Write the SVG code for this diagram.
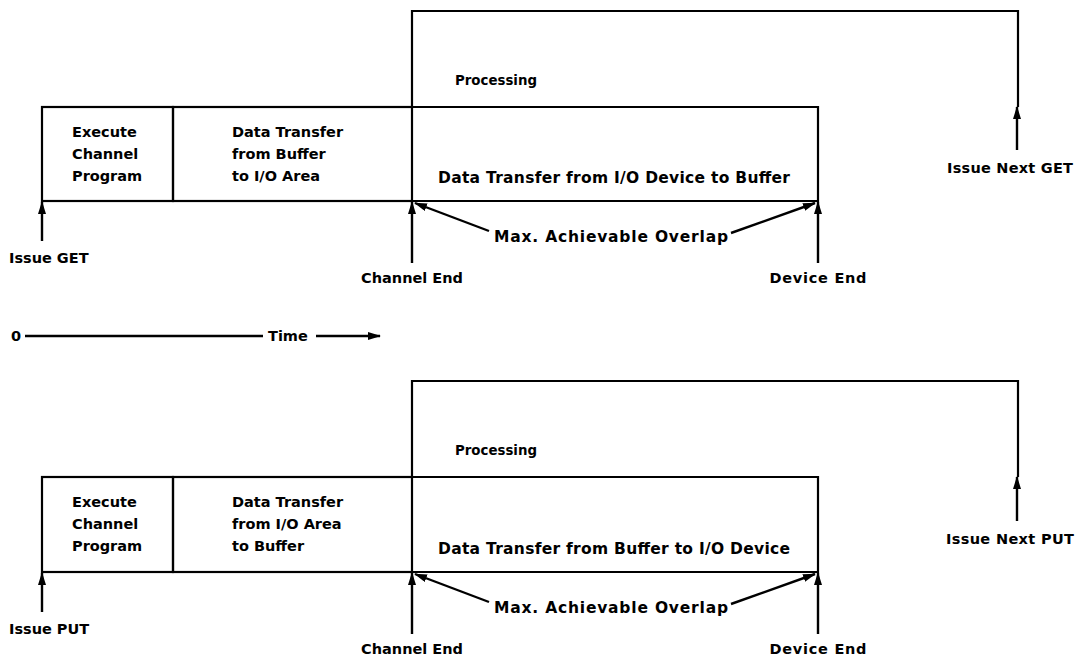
<svg xmlns="http://www.w3.org/2000/svg" width="1085" height="655" viewBox="0 0 1085 655">
  <style>
    .box { fill: none; stroke: #000; stroke-width: 2.2; }
    .ln { fill: none; stroke: #000; stroke-width: 2.4; }
    .arr { fill: none; stroke: #000; stroke-width: 2.4; marker-end: url(#ah); }
    .t { font-family: "DejaVu Sans", "Liberation Sans", sans-serif; font-weight: bold; font-size: 14.5px; fill: #000; }
    .big { font-size: 15.5px; }
    .m { text-anchor: middle; }
  </style>
  <defs>
    <marker id="ah" viewBox="0 0 13 8" refX="12" refY="4" markerWidth="13" markerHeight="8" orient="auto" markerUnits="userSpaceOnUse">
      <path d="M0,0 L13,4 L0,8 z" fill="#000"/>
    </marker>
  </defs>

  <rect width="1085" height="655" fill="#fff"/>

  <!-- GET timeline -->
  <g id="get-timeline">
    <g id="get-processing">
      <path class="box" d="M412,107 V11 H1018 V107"/>
      <text class="t" x="455" y="85" textLength="82" lengthAdjust="spacingAndGlyphs">Processing</text>
    </g>
    <g id="get-exec">
      <rect class="box" x="42" y="107" width="131" height="94"/>
      <text class="t" x="72" y="137">Execute</text>
      <text class="t" x="72" y="159">Channel</text>
      <text class="t" x="72" y="181">Program</text>
    </g>
    <g id="get-move">
      <rect class="box" x="173" y="107" width="239" height="94"/>
      <text class="t" x="232" y="137">Data Transfer</text>
      <text class="t" x="232" y="159">from Buffer</text>
      <text class="t" x="232" y="181">to I/O Area</text>
    </g>
    <g id="get-device">
      <path class="box" d="M412,107 H818 V201 H412"/>
      <text class="t big m" x="614" y="183" textLength="352" lengthAdjust="spacing">Data Transfer from I/O Device to Buffer</text>
    </g>
    <g id="get-labels">
      <text class="t" x="9" y="263">Issue GET</text>
      <text class="t m" x="412" y="283">Channel End</text>
      <text class="t m" x="818" y="283" textLength="97" lengthAdjust="spacing">Device End</text>
      <text class="t big m" x="611" y="242" textLength="234" lengthAdjust="spacing">Max. Achievable Overlap</text>
      <text class="t m" x="1010" y="173" textLength="126" lengthAdjust="spacing">Issue Next GET</text>
    </g>
    <g id="get-connectors">
      <line class="arr" x1="42" y1="241" x2="42" y2="202"/>
      <line class="arr" x1="412" y1="263" x2="412" y2="202"/>
      <line class="arr" x1="818" y1="263" x2="818" y2="202"/>
      <line class="arr" x1="1017" y1="150" x2="1017" y2="107"/>
      <line class="arr" x1="489" y1="231" x2="415" y2="203"/>
      <line class="arr" x1="731" y1="233" x2="815" y2="203"/>
    </g>
  </g>

  <!-- time axis -->
  <g id="time-axis">
    <text class="t" x="11" y="341">0</text>
    <line class="ln" x1="25" y1="336" x2="263" y2="336"/>
    <text class="t" x="268" y="341">Time</text>
    <line class="arr" x1="316" y1="336" x2="380" y2="336"/>
  </g>

  <!-- PUT timeline -->
  <g id="put-timeline">
    <g id="put-processing">
      <path class="box" d="M412,477 V381 H1018 V477"/>
      <text class="t" x="455" y="455" textLength="82" lengthAdjust="spacingAndGlyphs">Processing</text>
    </g>
    <g id="put-exec">
      <rect class="box" x="42" y="477" width="131" height="95"/>
      <text class="t" x="72" y="507">Execute</text>
      <text class="t" x="72" y="529">Channel</text>
      <text class="t" x="72" y="551">Program</text>
    </g>
    <g id="put-move">
      <rect class="box" x="173" y="477" width="239" height="95"/>
      <text class="t" x="232" y="507">Data Transfer</text>
      <text class="t" x="232" y="529">from I/O Area</text>
      <text class="t" x="232" y="551">to Buffer</text>
    </g>
    <g id="put-device">
      <path class="box" d="M412,477 H818 V572 H412"/>
      <text class="t big m" x="614" y="554" textLength="352" lengthAdjust="spacing">Data Transfer from Buffer to I/O Device</text>
    </g>
    <g id="put-labels">
      <text class="t" x="9" y="634">Issue PUT</text>
      <text class="t m" x="412" y="654">Channel End</text>
      <text class="t m" x="818" y="654" textLength="97" lengthAdjust="spacing">Device End</text>
      <text class="t big m" x="611" y="613" textLength="234" lengthAdjust="spacing">Max. Achievable Overlap</text>
      <text class="t m" x="1010" y="544" textLength="128" lengthAdjust="spacing">Issue Next PUT</text>
    </g>
    <g id="put-connectors">
      <line class="arr" x1="42" y1="612" x2="42" y2="573"/>
      <line class="arr" x1="412" y1="634" x2="412" y2="573"/>
      <line class="arr" x1="818" y1="634" x2="818" y2="573"/>
      <line class="arr" x1="1017" y1="521" x2="1017" y2="477"/>
      <line class="arr" x1="489" y1="602" x2="415" y2="574"/>
      <line class="arr" x1="731" y1="604" x2="815" y2="574"/>
    </g>
  </g>
</svg>
